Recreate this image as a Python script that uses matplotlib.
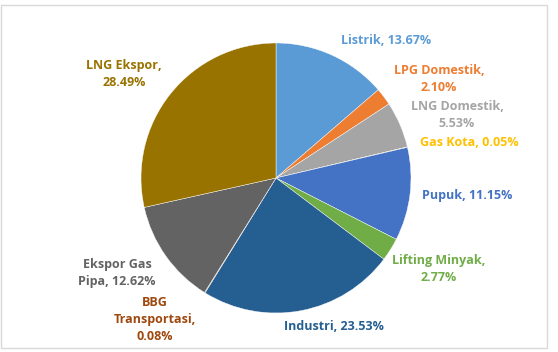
import matplotlib.pyplot as plt
from matplotlib.patches import Rectangle

labels = ['Listrik', 'LPG Domestik', 'LNG Domestik', 'Gas Kota', 'Pupuk',
          'Lifting Minyak', 'Industri', 'BBG Transportasi', 'Ekspor Gas Pipa', 'LNG Ekspor']
values = [13.67, 2.10, 5.53, 0.05, 11.15, 2.77, 23.53, 0.08, 12.62, 28.49]
colors = ['#5B9BD5', '#ED7D31', '#A5A5A5', '#FFC000', '#4472C4',
          '#70AD47', '#255E91', '#9E480E', '#636363', '#997300']
# label text (line breaks as in the chart) and label centre in pixels
label_text = ['Listrik, 13.67%', 'LPG Domestik,\n2.10%', 'LNG Domestik,\n5.53%',
              'Gas Kota, 0.05%', 'Pupuk, 11.15%', 'Lifting Minyak,\n2.77%',
              'Industri, 23.53%', 'BBG\nTransportasi,\n0.08%', 'Ekspor Gas\nPipa, 12.62%',
              'LNG Ekspor,\n28.49%']
label_pos = [(386, 40), (439, 79), (457, 115), (469, 143), (467, 196),
             (439, 269), (334, 326), (155, 320), (117, 273), (124, 74)]

W, H = 558, 352
fig = plt.figure(figsize=(W / 100, H / 100), dpi=100)
ax = fig.add_axes([0, 0, 1, 1])
ax.set_xlim(0, W)
ax.set_ylim(0, H)
ax.set_aspect('equal')
ax.axis('off')

ax.add_patch(Rectangle((0.5, H - 348), 546.5, 343, fill=False,
                       edgecolor='#D9D9D9', linewidth=1))

ax.pie(values, colors=colors, startangle=90, counterclock=False,
       center=(276, H - 178), radius=135,
       wedgeprops=dict(edgecolor='white', linewidth=0.3))
ax.set_xlim(0, W)
ax.set_ylim(0, H)

for txt, (x, y), c in zip(label_text, label_pos, colors):
    ax.text(x, H - y, txt, color=c, fontsize=9, fontweight='bold',
            family='Open Sans', ha='center', va='center', linespacing=1.4)

fig.savefig('out.png', dpi=100)
